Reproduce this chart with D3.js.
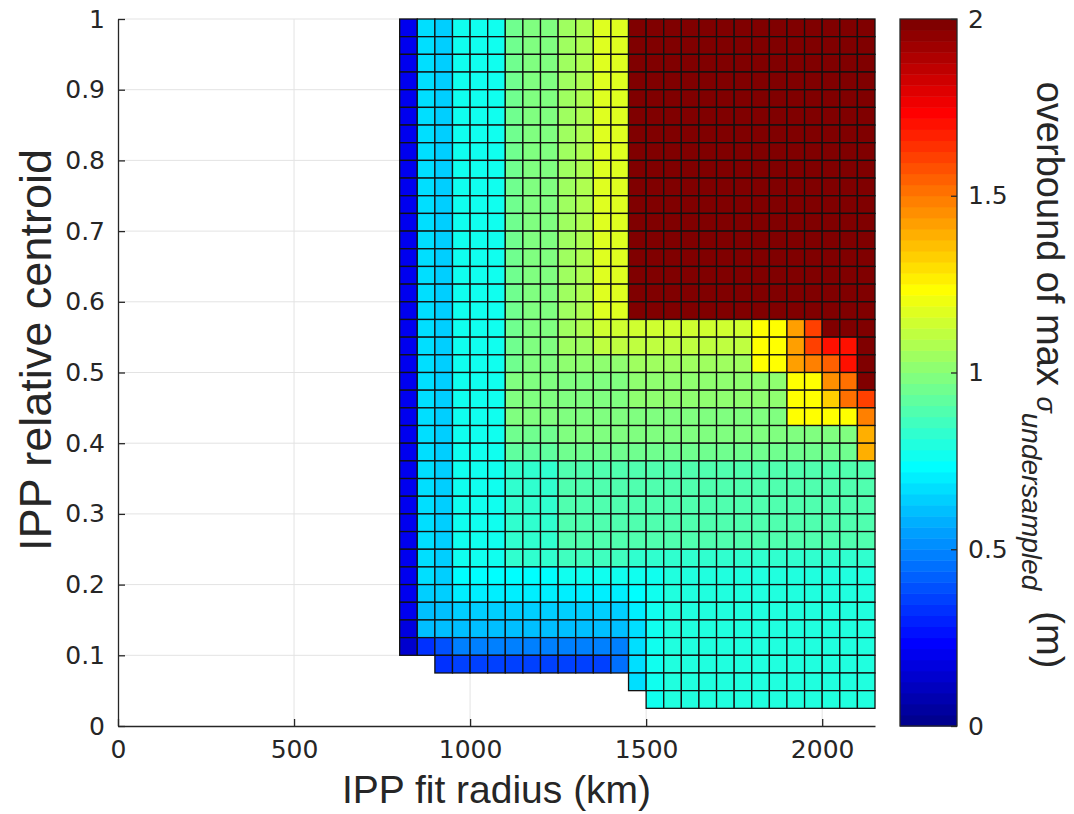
<!DOCTYPE html>
<html>
<head>
<meta charset="utf-8">
<script src="https://cdn.jsdelivr.net/npm/d3@7"></script>
<style>
  body { margin: 0; background: #ffffff; }
  text { fill: #262626; }
</style>
</head>
<body>
<svg id="chart" width="1074" height="814"></svg>
<script>
// IPP fit radius: left edge of each 50 km column (km)
const radiusKm = [800, 850, 900, 950, 1000, 1050, 1100, 1150, 1200, 1250, 1300, 1350, 1400,
                  1450, 1500, 1550, 1600, 1650, 1700, 1750, 1800, 1850, 1900, 1950, 2000, 2050, 2100];
const radiusStep = 50;

// IPP relative centroid: lower edge of each row, top row first
const centroid = [0.975, 0.95, 0.925, 0.9, 0.875, 0.85, 0.825, 0.8, 0.775, 0.75, 0.725, 0.7, 0.675,
                  0.65, 0.625, 0.6, 0.575, 0.55, 0.525, 0.5, 0.475, 0.45, 0.425, 0.4, 0.375, 0.35,
                  0.325, 0.3, 0.275, 0.25, 0.225, 0.2, 0.175, 0.15, 0.125, 0.1, 0.075, 0.05, 0.025];
const centroidStep = 0.025;

// Overbound of max sigma_undersampled (m); one row per centroid, one entry per radius
const sigmaOverbound = [
  [0.20,0.66,0.63,0.77,0.77,0.77,0.96,0.97,0.99,1.06,1.08,1.18,1.18,2.00,2.00,2.00,2.00,2.00,2.00,2.00,2.00,2.00,2.00,2.00,2.00,2.00,2.00],
  [0.20,0.66,0.63,0.77,0.77,0.77,0.96,0.97,0.99,1.06,1.08,1.18,1.18,2.00,2.00,2.00,2.00,2.00,2.00,2.00,2.00,2.00,2.00,2.00,2.00,2.00,2.00],
  [0.20,0.66,0.63,0.77,0.77,0.77,0.96,0.97,0.99,1.06,1.08,1.18,1.18,2.00,2.00,2.00,2.00,2.00,2.00,2.00,2.00,2.00,2.00,2.00,2.00,2.00,2.00],
  [0.20,0.66,0.63,0.77,0.77,0.77,0.96,0.97,0.99,1.06,1.08,1.18,1.18,2.00,2.00,2.00,2.00,2.00,2.00,2.00,2.00,2.00,2.00,2.00,2.00,2.00,2.00],
  [0.20,0.66,0.63,0.77,0.77,0.77,0.96,0.97,0.99,1.06,1.08,1.18,1.18,2.00,2.00,2.00,2.00,2.00,2.00,2.00,2.00,2.00,2.00,2.00,2.00,2.00,2.00],
  [0.20,0.66,0.63,0.77,0.77,0.77,0.96,0.97,0.99,1.06,1.08,1.18,1.18,2.00,2.00,2.00,2.00,2.00,2.00,2.00,2.00,2.00,2.00,2.00,2.00,2.00,2.00],
  [0.20,0.66,0.63,0.77,0.77,0.77,0.96,0.97,0.99,1.06,1.08,1.18,1.18,2.00,2.00,2.00,2.00,2.00,2.00,2.00,2.00,2.00,2.00,2.00,2.00,2.00,2.00],
  [0.20,0.66,0.63,0.77,0.77,0.77,0.96,0.97,0.99,1.06,1.08,1.18,1.18,2.00,2.00,2.00,2.00,2.00,2.00,2.00,2.00,2.00,2.00,2.00,2.00,2.00,2.00],
  [0.20,0.66,0.63,0.77,0.77,0.77,0.96,0.97,0.99,1.06,1.08,1.18,1.18,2.00,2.00,2.00,2.00,2.00,2.00,2.00,2.00,2.00,2.00,2.00,2.00,2.00,2.00],
  [0.20,0.66,0.63,0.77,0.77,0.77,0.96,0.97,0.99,1.06,1.08,1.18,1.18,2.00,2.00,2.00,2.00,2.00,2.00,2.00,2.00,2.00,2.00,2.00,2.00,2.00,2.00],
  [0.20,0.66,0.63,0.77,0.77,0.77,0.96,0.97,0.99,1.06,1.08,1.18,1.18,2.00,2.00,2.00,2.00,2.00,2.00,2.00,2.00,2.00,2.00,2.00,2.00,2.00,2.00],
  [0.20,0.66,0.63,0.77,0.77,0.77,0.96,0.97,0.99,1.06,1.08,1.18,1.18,2.00,2.00,2.00,2.00,2.00,2.00,2.00,2.00,2.00,2.00,2.00,2.00,2.00,2.00],
  [0.20,0.66,0.63,0.77,0.77,0.77,0.96,0.97,0.99,1.06,1.08,1.18,1.18,2.00,2.00,2.00,2.00,2.00,2.00,2.00,2.00,2.00,2.00,2.00,2.00,2.00,2.00],
  [0.20,0.66,0.63,0.77,0.77,0.77,0.96,0.97,0.99,1.06,1.08,1.18,1.18,2.00,2.00,2.00,2.00,2.00,2.00,2.00,2.00,2.00,2.00,2.00,2.00,2.00,2.00],
  [0.20,0.66,0.63,0.77,0.77,0.77,0.96,0.97,0.99,1.06,1.08,1.18,1.18,2.00,2.00,2.00,2.00,2.00,2.00,2.00,2.00,2.00,2.00,2.00,2.00,2.00,2.00],
  [0.20,0.66,0.63,0.77,0.77,0.77,0.96,0.97,0.99,1.06,1.08,1.18,1.18,2.00,2.00,2.00,2.00,2.00,2.00,2.00,2.00,2.00,2.00,2.00,2.00,2.00,2.00],
  [0.20,0.66,0.63,0.77,0.77,0.77,0.96,0.97,0.99,1.06,1.08,1.18,1.18,2.00,2.00,2.00,2.00,2.00,2.00,2.00,2.00,2.00,2.00,2.00,2.00,2.00,2.00],
  [0.20,0.66,0.63,0.77,0.77,0.77,0.96,0.97,0.99,1.06,1.07,1.13,1.13,1.13,1.13,1.13,1.13,1.13,1.13,1.13,1.24,1.24,1.42,1.61,2.00,2.00,2.00],
  [0.20,0.66,0.63,0.77,0.77,0.77,0.96,0.97,0.99,1.05,1.06,1.12,1.12,1.12,1.12,1.12,1.12,1.12,1.12,1.12,1.24,1.24,1.43,1.62,1.69,1.69,2.00],
  [0.20,0.66,0.63,0.77,0.77,0.77,0.96,0.97,0.98,1.01,1.01,1.02,1.02,1.05,1.05,1.05,1.05,1.05,1.05,1.05,1.24,1.24,1.43,1.47,1.56,1.70,2.00],
  [0.20,0.66,0.63,0.77,0.77,0.77,0.97,0.98,0.98,0.99,0.99,0.99,0.99,1.00,1.00,1.00,1.00,1.00,1.00,1.00,1.00,1.00,1.22,1.22,1.45,1.52,2.00],
  [0.20,0.66,0.63,0.77,0.77,0.77,0.97,0.97,0.97,0.98,0.98,0.98,0.98,1.00,1.00,1.00,1.00,1.00,1.00,1.00,1.00,1.00,1.22,1.22,1.33,1.50,1.60],
  [0.20,0.66,0.63,0.77,0.77,0.77,0.97,0.97,0.97,0.98,0.98,0.98,0.98,0.99,0.99,0.99,0.99,0.99,0.99,0.99,0.99,0.99,1.22,1.22,1.24,1.24,1.47],
  [0.20,0.66,0.63,0.77,0.77,0.77,0.96,0.96,0.96,0.97,0.97,0.97,0.97,0.97,0.97,0.97,0.97,0.97,0.97,0.97,0.97,0.97,0.97,0.97,0.97,0.97,1.40],
  [0.20,0.66,0.63,0.77,0.77,0.77,0.93,0.93,0.93,0.94,0.94,0.94,0.94,0.94,0.94,0.94,0.94,0.94,0.94,0.94,0.94,0.94,0.94,0.94,0.94,0.94,1.38],
  [0.20,0.66,0.63,0.77,0.77,0.77,0.83,0.83,0.83,0.89,0.89,0.89,0.89,0.89,0.89,0.89,0.89,0.89,0.89,0.89,0.89,0.89,0.89,0.89,0.89,0.89,0.89],
  [0.20,0.66,0.63,0.77,0.77,0.77,0.83,0.83,0.83,0.89,0.89,0.89,0.89,0.89,0.89,0.89,0.89,0.89,0.89,0.89,0.89,0.89,0.89,0.89,0.89,0.89,0.89],
  [0.20,0.66,0.63,0.77,0.77,0.77,0.83,0.83,0.83,0.89,0.89,0.89,0.89,0.89,0.89,0.89,0.89,0.89,0.89,0.89,0.89,0.89,0.89,0.89,0.89,0.89,0.89],
  [0.20,0.66,0.63,0.77,0.77,0.77,0.83,0.83,0.83,0.89,0.89,0.89,0.89,0.89,0.89,0.89,0.89,0.89,0.89,0.89,0.89,0.89,0.89,0.89,0.89,0.89,0.89],
  [0.20,0.66,0.63,0.77,0.77,0.77,0.83,0.83,0.83,0.89,0.89,0.89,0.89,0.89,0.89,0.89,0.89,0.89,0.89,0.89,0.89,0.89,0.89,0.89,0.89,0.89,0.89],
  [0.20,0.66,0.63,0.77,0.77,0.77,0.82,0.82,0.82,0.86,0.86,0.86,0.86,0.84,0.84,0.84,0.84,0.84,0.84,0.84,0.84,0.84,0.84,0.84,0.84,0.84,0.84],
  [0.20,0.66,0.64,0.74,0.74,0.74,0.74,0.74,0.74,0.75,0.75,0.75,0.75,0.75,0.76,0.81,0.81,0.81,0.81,0.81,0.81,0.81,0.81,0.81,0.81,0.81,0.81],
  [0.19,0.65,0.64,0.69,0.69,0.69,0.69,0.69,0.69,0.69,0.69,0.69,0.69,0.72,0.76,0.81,0.81,0.81,0.81,0.81,0.81,0.81,0.81,0.81,0.81,0.81,0.81],
  [0.19,0.62,0.62,0.63,0.63,0.63,0.63,0.63,0.63,0.63,0.63,0.63,0.63,0.70,0.76,0.81,0.81,0.81,0.81,0.81,0.81,0.81,0.81,0.81,0.81,0.81,0.81],
  [0.18,0.60,0.60,0.60,0.60,0.60,0.60,0.60,0.60,0.60,0.60,0.60,0.60,0.68,0.76,0.81,0.81,0.81,0.81,0.81,0.81,0.81,0.81,0.81,0.81,0.81,0.81],
  [0.15,0.33,0.38,0.47,0.47,0.47,0.47,0.47,0.47,0.47,0.47,0.47,0.48,0.68,0.76,0.81,0.81,0.81,0.81,0.81,0.81,0.81,0.81,0.81,0.81,0.81,0.81],
  [null,null,0.34,0.35,0.35,0.35,0.35,0.35,0.35,0.35,0.35,0.35,0.44,0.67,0.76,0.81,0.81,0.81,0.81,0.81,0.81,0.81,0.81,0.81,0.81,0.81,0.81],
  [null,null,null,null,null,null,null,null,null,null,null,null,null,0.67,0.76,0.81,0.81,0.81,0.81,0.81,0.81,0.81,0.81,0.81,0.81,0.81,0.81],
  [null,null,null,null,null,null,null,null,null,null,null,null,null,null,0.76,0.81,0.81,0.81,0.81,0.81,0.81,0.81,0.81,0.81,0.81,0.81,0.81]
];

const xTicks = [0, 500, 1000, 1500, 2000];
const yTicks = [0, 0.1, 0.2, 0.3, 0.4, 0.5, 0.6, 0.7, 0.8, 0.9, 1];
const cbTicks = [0, 0.5, 1, 1.5, 2];
const colorLimits = [0, 2];

// 64-step jet colour map
function jetMap(m) {
  const n = Math.ceil(m / 4);
  const u = [];
  for (let i = 1; i <= n; i++) u.push(i / n);
  for (let i = 1; i < n; i++) u.push(1);
  for (let i = n; i >= 1; i--) u.push(i / n);
  const off = Math.ceil(n / 2) - (m % 4 === 1 ? 1 : 0);
  const J = Array.from({ length: m }, () => [0, 0, 0]);
  const g = u.map((_, i) => off + i + 1);
  const r = g.map(v => v + n).filter(v => v <= m);
  const b = g.map(v => v - n).filter(v => v >= 1);
  const gk = g.filter(v => v <= m);
  r.forEach((idx, i) => { J[idx - 1][0] = u[i]; });
  gk.forEach((idx, i) => { J[idx - 1][1] = u[i]; });
  b.forEach((idx, i) => { J[idx - 1][2] = u[u.length - b.length + i]; });
  return J.map(c => d3.rgb(c[0] * 255, c[1] * 255, c[2] * 255).formatHex());
}
const jet = jetMap(64);
const colorIndex = d3.scaleQuantize().domain(colorLimits).range(d3.range(64));
const colorOf = v => jet[colorIndex(Math.max(colorLimits[0], Math.min(colorLimits[1], v)))];

const svg = d3.select("#chart");
const plot = { left: 118, right: 875, top: 19, bottom: 726 };

const x = d3.scaleLinear().domain([0, 2150]).range([plot.left, plot.right]);
const y = d3.scaleLinear().domain([0, 1]).range([plot.bottom, plot.top]);

// grid lines
const grid = svg.append("g").attr("stroke", "#e3e3e3").attr("stroke-width", 1);
grid.selectAll("line.v").data(xTicks.filter(d => d > 0)).join("line")
  .attr("x1", d => x(d)).attr("x2", d => x(d))
  .attr("y1", plot.top).attr("y2", plot.bottom);
grid.selectAll("line.h").data(yTicks.filter(d => d > 0)).join("line")
  .attr("x1", plot.left).attr("x2", plot.right)
  .attr("y1", d => y(d)).attr("y2", d => y(d));

// heat-map cells
const cells = [];
sigmaOverbound.forEach((row, i) => {
  row.forEach((v, j) => {
    if (v !== null) cells.push({ r: radiusKm[j], c: centroid[i], v });
  });
});
svg.append("g").selectAll("rect").data(cells).join("rect")
  .attr("x", d => x(d.r))
  .attr("y", d => y(d.c + centroidStep))
  .attr("width", d => x(d.r + radiusStep) - x(d.r))
  .attr("height", d => y(d.c) - y(d.c + centroidStep))
  .attr("fill", d => colorOf(d.v))
  .attr("stroke", "#111111")
  .attr("stroke-width", 1.3);

// axes
const tickFont = "DejaVu Sans, sans-serif";
const tickSize = 25;
const xAxis = svg.append("g").attr("transform", `translate(0,${plot.bottom})`)
  .call(d3.axisBottom(x).tickValues(xTicks).tickSizeInner(-7).tickSizeOuter(0).tickPadding(14)
        .tickFormat(d => String(d)));
const yAxis = svg.append("g").attr("transform", `translate(${plot.left},0)`)
  .call(d3.axisLeft(y).tickValues(yTicks).tickSizeInner(-7).tickSizeOuter(0).tickPadding(13)
        .tickFormat(d => String(d)));
[xAxis, yAxis].forEach(a => {
  a.select(".domain").attr("stroke", "#262626").attr("stroke-width", 1.3);
  a.selectAll(".tick line").attr("stroke", "#262626").attr("stroke-width", 1.3);
  a.selectAll(".tick text").attr("font-family", tickFont).attr("font-size", tickSize).attr("fill", "#262626");
});

// axis titles
const titleFont = "Liberation Sans, Arial, sans-serif";
svg.append("text")
  .attr("x", (plot.left + plot.right) / 2).attr("y", 803)
  .attr("text-anchor", "middle")
  .attr("font-family", titleFont).attr("font-size", 39)
  .text("IPP fit radius (km)");
svg.append("text")
  .attr("transform", `translate(51,350) rotate(-90)`)
  .attr("text-anchor", "middle")
  .attr("font-family", titleFont).attr("font-size", 45)
  .text("IPP relative centroid");

// colour bar
const cb = { left: 900, right: 957 };
const cbY = d3.scaleLinear().domain(colorLimits).range([plot.bottom, plot.top]);
const steps = d3.range(64).map(i => ({
  lo: colorLimits[0] + i * (colorLimits[1] - colorLimits[0]) / 64,
  hi: colorLimits[0] + (i + 1) * (colorLimits[1] - colorLimits[0]) / 64,
  c: jet[i]
}));
svg.append("g").selectAll("rect").data(steps).join("rect")
  .attr("x", cb.left).attr("width", cb.right - cb.left)
  .attr("y", d => cbY(d.hi)).attr("height", d => cbY(d.lo) - cbY(d.hi) + 0.5)
  .attr("fill", d => d.c);
svg.append("rect")
  .attr("x", cb.left).attr("y", plot.top)
  .attr("width", cb.right - cb.left).attr("height", plot.bottom - plot.top)
  .attr("fill", "none").attr("stroke", "#262626").attr("stroke-width", 1.3);
const cbAxis = svg.append("g").attr("transform", `translate(${cb.right},0)`)
  .call(d3.axisRight(cbY).tickValues(cbTicks).tickSizeInner(-6).tickSizeOuter(0).tickPadding(11)
        .tickFormat(d => String(d)));
cbAxis.select(".domain").remove();
cbAxis.selectAll(".tick line").attr("stroke", "#262626").attr("stroke-width", 1.3);
cbAxis.selectAll(".tick text").attr("font-family", tickFont).attr("font-size", tickSize).attr("fill", "#262626");

// colour bar label
const cbLabel = svg.append("text")
  .attr("transform", `translate(1037,375) rotate(90)`)
  .attr("text-anchor", "middle")
  .attr("font-family", titleFont).attr("font-size", 38)
  .style("white-space", "pre");
cbLabel.append("tspan").text("overbound of max ");
cbLabel.append("tspan").attr("font-style", "italic").attr("font-size", 27).text("σ");
cbLabel.append("tspan").attr("font-style", "italic").attr("font-size", 28).attr("dy", 15).text("undersampled");
cbLabel.append("tspan").attr("dy", -15).text("  (m)");
</script>
</body>
</html>
